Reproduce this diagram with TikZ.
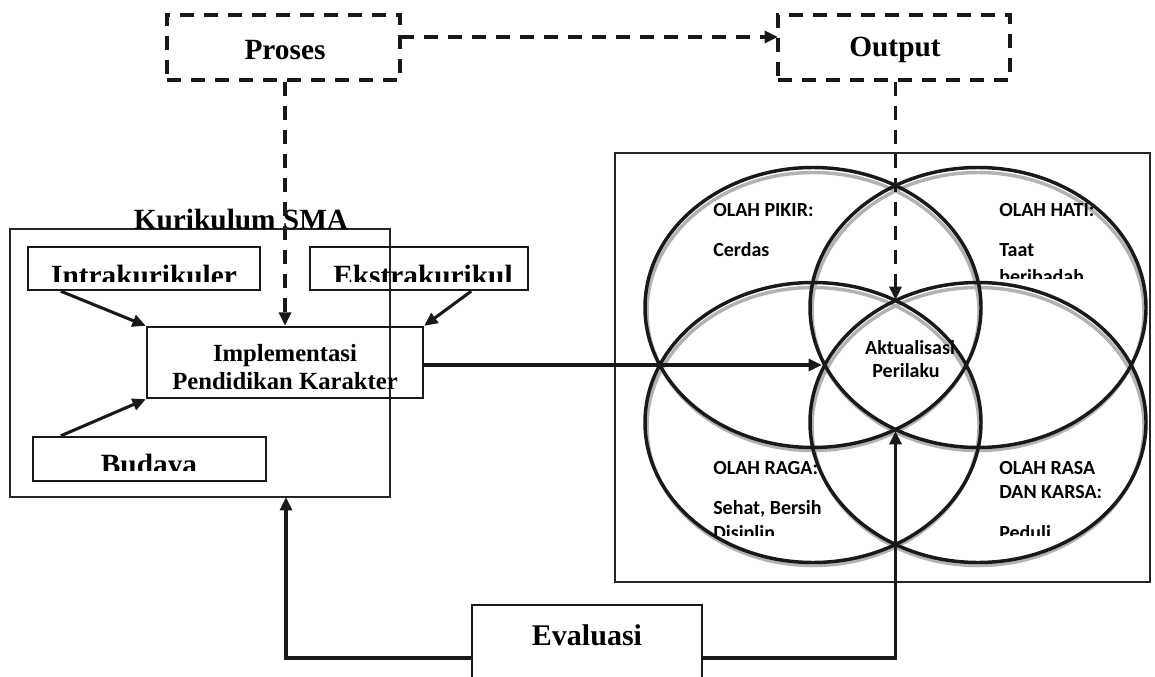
\documentclass[tikz,border=0pt]{standalone}
\usepackage{fontspec}
\setmainfont{Liberation Serif}
\newfontfamily\calibrifont{Carlito}
\usetikzlibrary{arrows.meta,fit}
\begin{document}
\begin{tikzpicture}[x=0.75pt,y=-0.75pt,
  box/.style={draw=black!90,line width=1.8pt,inner sep=0pt},
  frame/.style={draw=black!85,line width=0.9pt,inner sep=0pt},
  dbox/.style={draw=black!90,line width=2.4pt,dash pattern=on 10.5pt off 7.5pt,inner sep=0pt},
  conn/.style={draw=black!90,line width=2.3pt,-{Triangle[length=10pt,width=9pt]}},
  dconn/.style={draw=black!90,line width=2.4pt,dash pattern=on 10.5pt off 7.5pt,-{Triangle[length=10pt,width=9pt]}},
  serif/.style={font=\bfseries\fontsize{22}{26}\selectfont,inner sep=0pt},
  venn/.style={font=\calibrifont\bfseries\fontsize{15}{18}\selectfont,inner sep=0pt,anchor=base west},
  ring/.style={draw=black!90,line width=2.6pt},
  halo/.style={draw=black!30,line width=2.6pt}
]
\useasboundingbox (0,0) rectangle (1155,677);
% top dashed boxes
\node[dbox,fit={(167,15) (400,80)}] (proses) {};
\node[serif] (prosest) at (285,50) {Proses};
\node[dbox,fit={(778,15) (1010,80)}] (output) {};
\node[serif] (outputt) at (895,50) {Output};
% left container
\node[frame,fit={(10,229) (390,497)}] (kur) {};
\node[serif,anchor=base] (kurt) at (241,229) {Kurikulum SMA};
\node[box,fit={(28,247) (260,290)}] (intra) {};
\node[box,fit={(310,247) (528,290)}] (ekstra) {};
\node[box,fit={(147,327) (423,398)}] (impl) {};
\node[box,fit={(33,437) (266,481)}] (budaya) {};
\begin{scope}
  \clip (28,247) rectangle (528,281);
  \node[serif,anchor=base] (intrat) at (144,285) {Intrakurikuler};
  \node[serif,anchor=base] (ekstrat) at (423,285) {Ekstrakurikul};
\end{scope}
\begin{scope}
  \clip (33,437) rectangle (266,470);
  \node[serif,anchor=base] (budayat) at (149,474) {Budaya};
\end{scope}
\node[font=\bfseries\fontsize{18.5}{21}\selectfont,inner sep=0pt,anchor=base] (implt1) at (285,361) {Implementasi};
\node[font=\bfseries\fontsize{18.5}{21}\selectfont,inner sep=0pt,anchor=base] (implt2) at (285,389) {Pendidikan Karakter};
% right container and venn
\node[frame,fit={(615,153) (1150,582)}] (venn) {};
\foreach \cx/\cy in {813/307.5,978/307.5,813/422.5,978/422.5}{
  \draw[halo] (\cx,\cy+4) ellipse [x radius=166, y radius=139];
}
\foreach \cx/\cy in {813/307.5,978/307.5,813/422.5,978/422.5}{
  \draw[ring] (\cx,\cy) ellipse [x radius=168, y radius=140];
}
\coordinate (vleft) at (822,365);
\coordinate (vtop) at (895.5,300);
\coordinate (vbot) at (895.5,431);
\node[venn] (pikir) at (713,217) {OLAH PIKIR:};
\node[venn] (cerdas) at (713,257) {Cerdas};
\node[venn] (hati) at (999,217) {OLAH HATI:};
\node[venn] (taat) at (999,257) {Taat};
\begin{scope}
  \clip (990,262) rectangle (1100,278);
  \node[venn] (ibadah) at (999,283) {beribadah};
\end{scope}
\node[venn,anchor=base] (akt1) at (910,354) {Aktualisasi};
\node[venn,anchor=base] (akt2) at (906,377) {Perilaku};
\node[venn] (raga) at (713,474) {OLAH RAGA:};
\node[venn] (sehat) at (713,514) {Sehat, Bersih};
\node[venn] (rasa) at (999,474) {OLAH RASA};
\node[venn] (karsa) at (999,498) {DAN KARSA:};
\begin{scope}
  \clip (700,520) rectangle (1100,535);
  \node[venn] (disiplin) at (713,539) {Disiplin};
  \node[venn] (peduli) at (999,539) {Peduli,};
\end{scope}
% evaluasi
\node[box,fit={(472,605) (702,700)}] (eval) {};
\node[font=\bfseries\fontsize{22.5}{26}\selectfont,inner sep=0pt,anchor=base] (evalt) at (587,645) {Evaluasi};
% connectors
\coordinate (pa) at (400,37);
\coordinate (pb) at (778,37);
\draw[dconn] (pa) -- (pb);
\draw[dconn] (proses.south -| impl.north) -- (impl.north);
\draw[dconn] (output.south -| vtop) -- (vtop);
\draw[conn] ([xshift=34*0.75pt]intra.south west) -- (impl.north west);
\draw[conn] ([xshift=-58*0.75pt]ekstra.south east) -- (impl.north east);
\draw[conn] ([xshift=29*0.75pt]budaya.north west) -- (impl.south west);
\draw[conn] (impl.east |- vleft) -- (vleft);
\coordinate (el) at (472,658);
\coordinate (er) at (702,658);
\coordinate (kb) at (286,497);
\draw[conn] (el) -| (kb);
\draw[conn] (er) -| (vbot);
\end{tikzpicture}
\end{document}
